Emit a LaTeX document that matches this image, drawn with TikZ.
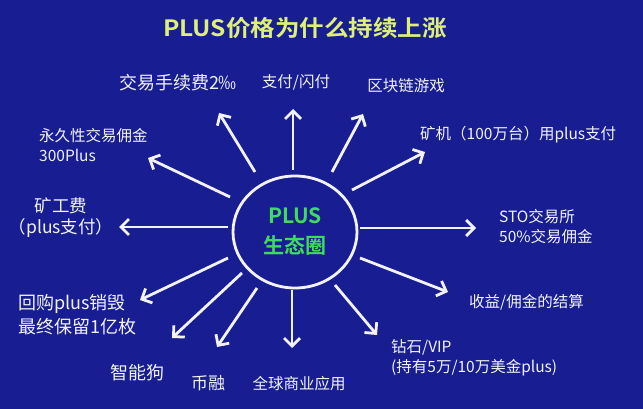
\documentclass[tikz,border=0pt]{standalone}
\usepackage{fontspec}
\usepackage{graphicx}
\setmainfont{Noto Sans CJK SC}[BoldFont={Noto Sans CJK SC Bold}]
\usetikzlibrary{arrows.meta,shapes.geometric}
\definecolor{bg}{RGB}{24,30,146}
\definecolor{ttl}{RGB}{222,240,118}
\definecolor{grn}{RGB}{64,218,92}
\definecolor{txt}{RGB}{242,242,250}
\begin{document}
\begin{tikzpicture}[x=1pt,y=-1pt,
  lbl/.style={text=txt, font=\fontsize{15.5}{20}\selectfont, inner sep=0pt},
  biglbl/.style={text=txt, font=\fontsize{18}{24}\selectfont, inner sep=0pt},
  ray/.style={draw=txt, line width=2.8pt, -{Straight Barb[length=8pt,width=16pt]}}]
\fill[bg] (0,0) rectangle (643,409);
\useasboundingbox (0,0) rectangle (643,409);
% title
\node[text=ttl, inner sep=0pt, font=\bfseries\fontsize{22.5}{26}\selectfont] (title) at (305,28) {\scalebox{1.09}[1]{PLUS价格为什么持续上涨}};
% centre
\node[ellipse, draw=txt, line width=2.8pt, minimum width=124pt, minimum height=112pt, inner sep=0pt,
      text=grn, align=center, font=\bfseries\fontsize{21}{30}\selectfont] (eco) at (295,232) {PLUS\\生态圈};
% ray end points
\coordinate (s1) at (293,170);  \coordinate (t1) at (293,109);
\coordinate (s2) at (255,172);  \coordinate (t2) at (219,113);
\coordinate (s3) at (332,172);  \coordinate (t3) at (363,114);
\coordinate (s4) at (230,197);  \coordinate (t4) at (148,158);
\coordinate (s5) at (352,190);  \coordinate (t5) at (425,152);
\coordinate (s6) at (228,227);  \coordinate (t6) at (119,227);
\coordinate (s7) at (360,228);  \coordinate (t7) at (476,228);
\coordinate (s8) at (228,258);  \coordinate (t8) at (140,300);
\coordinate (s9) at (360,258);  \coordinate (t9) at (448,292);
\coordinate (s10) at (242,273); \coordinate (t10) at (172,338);
\coordinate (s11) at (257,288); \coordinate (t11) at (217,347);
\coordinate (s12) at (292,290); \coordinate (t12) at (292,348);
\coordinate (s13) at (335,285); \coordinate (t13) at (377,335);
\foreach \i in {1,...,13} { \draw[ray] (s\i) -- (t\i); }
% labels
\node[biglbl] (fee) at (178,83) {交易手续费2‰};
\node[lbl] (pay) at (296,82) {支付/闪付};
\node[lbl] (game) at (406,86) {区块链游戏};
\node[lbl, anchor=west, align=left] (comm) at (39,145) {永久性交易佣金\\300Plus};
\node[lbl, anchor=west] (miner) at (420,135) {矿机（100万台）用plus支付};
\node[text=txt, inner sep=0pt, align=center, font=\fontsize{17.5}{21}\selectfont] (gas) at (61,218) {矿工费\\（plus支付）};
\node[lbl, anchor=west, align=left] (sto) at (499,227) {STO交易所\\50\%交易佣金};
\node[biglbl, anchor=west, align=left] (burn) at (18,315) {回购plus销毁\\最终保留1亿枚};
\node[lbl, anchor=west] (settle) at (469,302) {收益/佣金的结算};
\node[lbl, anchor=west, align=left] (vip) at (391,358) {钻石/VIP\\(持有5万/10万美金plus)};
\node[biglbl] (dog) at (137,373) {智能狗};
\node[text=txt, inner sep=0pt, font=\fontsize{17}{20}\selectfont] (coin) at (208,383) {币融};
\node[lbl] (global) at (299,384) {全球商业应用};
\end{tikzpicture}
\end{document}
